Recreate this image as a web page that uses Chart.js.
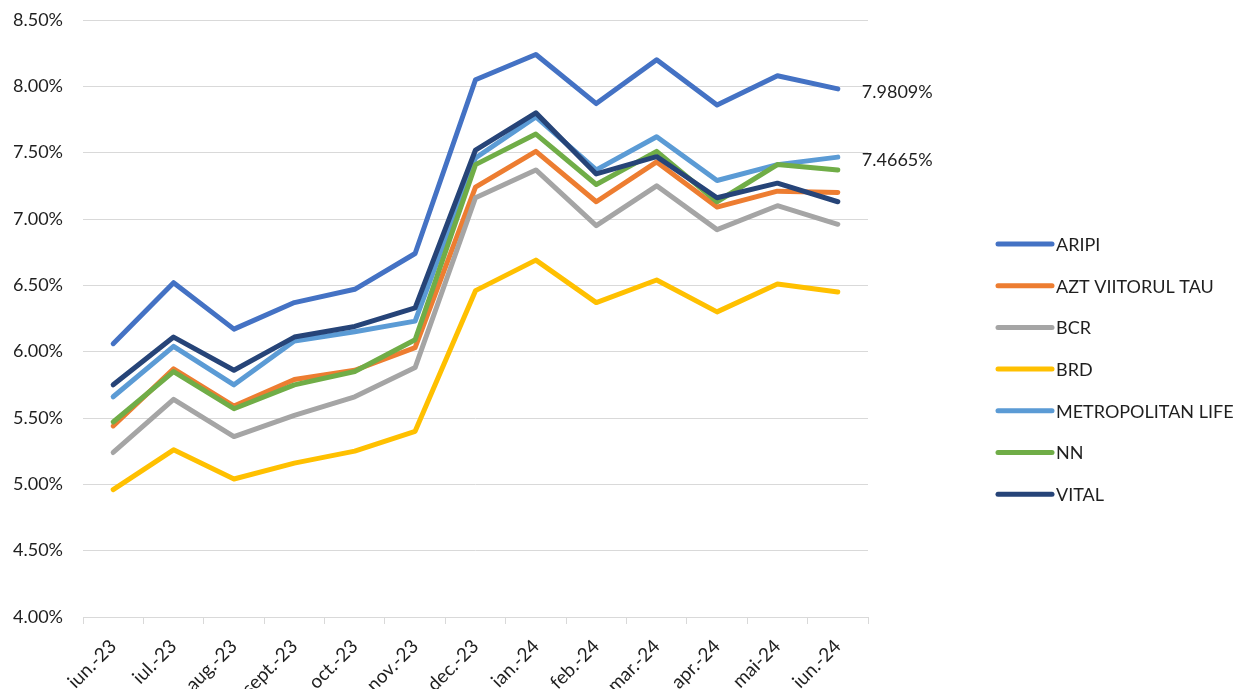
<!DOCTYPE html>
<html>
<head>
<meta charset="utf-8">
<script src="https://cdn.jsdelivr.net/npm/chart.js@4/dist/chart.umd.min.js"></script>
<style>
  body { margin: 0; background: #fff; }
  #wrap { width: 1239px; height: 689px; position: relative; }
</style>
</head>
<body>
<div id="wrap"><canvas id="grafico"></canvas></div>
<script>
const luni = ['iun.-23', 'iul.-23', 'aug.-23', 'sept.-23', 'oct.-23', 'nov.-23', 'dec.-23',
              'ian.-24', 'feb.-24', 'mar.-24', 'apr.-24', 'mai-24', 'iun.-24'];

const aripi     = [6.06, 6.52, 6.17, 6.37, 6.47, 6.74, 8.05, 8.24, 7.87, 8.20, 7.86, 8.08, 7.9809];
const azt       = [5.44, 5.87, 5.59, 5.79, 5.86, 6.03, 7.24, 7.51, 7.13, 7.43, 7.09, 7.21, 7.20];
const bcr       = [5.24, 5.64, 5.36, 5.52, 5.66, 5.88, 7.16, 7.37, 6.95, 7.25, 6.92, 7.10, 6.96];
const brd       = [4.96, 5.26, 5.04, 5.16, 5.25, 5.40, 6.46, 6.69, 6.37, 6.54, 6.30, 6.51, 6.45];
const metlife   = [5.66, 6.04, 5.75, 6.08, 6.15, 6.23, 7.46, 7.77, 7.37, 7.62, 7.29, 7.41, 7.4665];
const nn        = [5.47, 5.85, 5.57, 5.75, 5.85, 6.09, 7.41, 7.64, 7.26, 7.51, 7.13, 7.41, 7.37];
const vital     = [5.75, 6.11, 5.86, 6.11, 6.19, 6.33, 7.52, 7.80, 7.34, 7.47, 7.16, 7.27, 7.13];

const serii = [
  { nume: 'ARIPI', date: aripi, culoare: '#4472C4', eticheta: true },
  { nume: 'AZT VIITORUL TAU', date: azt, culoare: '#ED7D31' },
  { nume: 'BCR', date: bcr, culoare: '#A5A5A5' },
  { nume: 'BRD', date: brd, culoare: '#FFC000' },
  { nume: 'METROPOLITAN LIFE', date: metlife, culoare: '#5B9BD5', eticheta: true },
  { nume: 'NN', date: nn, culoare: '#70AD47' },
  { nume: 'VITAL', date: vital, culoare: '#264478' }
];

const FONT = 'Lato, "Liberation Sans", sans-serif';
const TEXT = '#1f1f1f';

Chart.defaults.font.family = FONT;
Chart.defaults.font.size = 18;
Chart.defaults.color = TEXT;

// etichete pe ultimul punct + legenda desenata in dreapta
const extra = {
  id: 'extra',
  afterDatasetsDraw(chart) {
    const ctx = chart.ctx;
    ctx.save();
    ctx.font = '18px ' + FONT;
    ctx.fillStyle = TEXT;
    ctx.textBaseline = 'middle';
    ctx.textAlign = 'left';
    chart.data.datasets.forEach((ds, i) => {
      if (!ds.eticheta) return;
      const pts = chart.getDatasetMeta(i).data;
      const p = pts[pts.length - 1];
      const v = ds.data[ds.data.length - 1];
      ctx.fillText(v.toFixed(4) + '%', p.x + 24, p.y + 3);
    });

    // legenda
    const x0 = 998, y0 = 244, pas = 41.7;
    chart.data.datasets.forEach((ds, i) => {
      const y = y0 + pas * i;
      ctx.strokeStyle = ds.borderColor;
      ctx.lineWidth = 5;
      ctx.lineCap = 'round';
      ctx.beginPath();
      ctx.moveTo(x0, y);
      ctx.lineTo(x0 + 54, y);
      ctx.stroke();
      ctx.fillText(ds.label, x0 + 58, y + 1);
    });
    ctx.restore();
  }
};

const ctx = document.getElementById('grafico').getContext('2d');
const grafic = new Chart(ctx, {
  type: 'line',
  data: {
    labels: luni,
    datasets: serii.map((s, i) => ({
      label: s.nume,
      data: s.date,
      borderColor: s.culoare,
      backgroundColor: s.culoare,
      borderWidth: 5,
      pointRadius: 0,
      pointHoverRadius: 0,
      tension: 0,
      fill: false,
      borderCapStyle: 'round',
      borderJoinStyle: 'round',
      order: serii.length - i,
      eticheta: !!s.eticheta
    }))
  },
  options: {
    responsive: true,
    maintainAspectRatio: false,
    animation: false,
    layout: { padding: { top: 20, right: 371, left: 0, bottom: 0 } },
    plugins: {
      legend: { display: false },
      tooltip: { enabled: false }
    },
    scales: {
      x: {
        offset: true,
        grid: {
          offset: true,
          drawOnChartArea: false,
          drawTicks: true,
          tickLength: 7,
          color: '#D9D9D9'
        },
        border: { color: '#D9D9D9', width: 1 },
        ticks: {
          maxRotation: 45,
          minRotation: 45,
          autoSkip: false,
          padding: 11,
          labelOffset: 0,
          font: { size: 19 }
        },
        afterFit(scale) { scale.height = 72; scale.paddingLeft = 0; scale.paddingRight = 0; }
      },
      y: {
        min: 4,
        max: 8.5,
        ticks: {
          stepSize: 0.5,
          padding: 20,
          callback: v => v.toFixed(2) + '%',
          font: { size: 18 }
        },
        grid: { color: '#D9D9D9', lineWidth: 1, drawTicks: false },
        border: { display: false },
        afterFit(scale) { scale.width = 83; scale.paddingTop = 0; scale.paddingBottom = 0; }
      }
    }
  },
  plugins: [extra]
});
</script>
</body>
</html>
